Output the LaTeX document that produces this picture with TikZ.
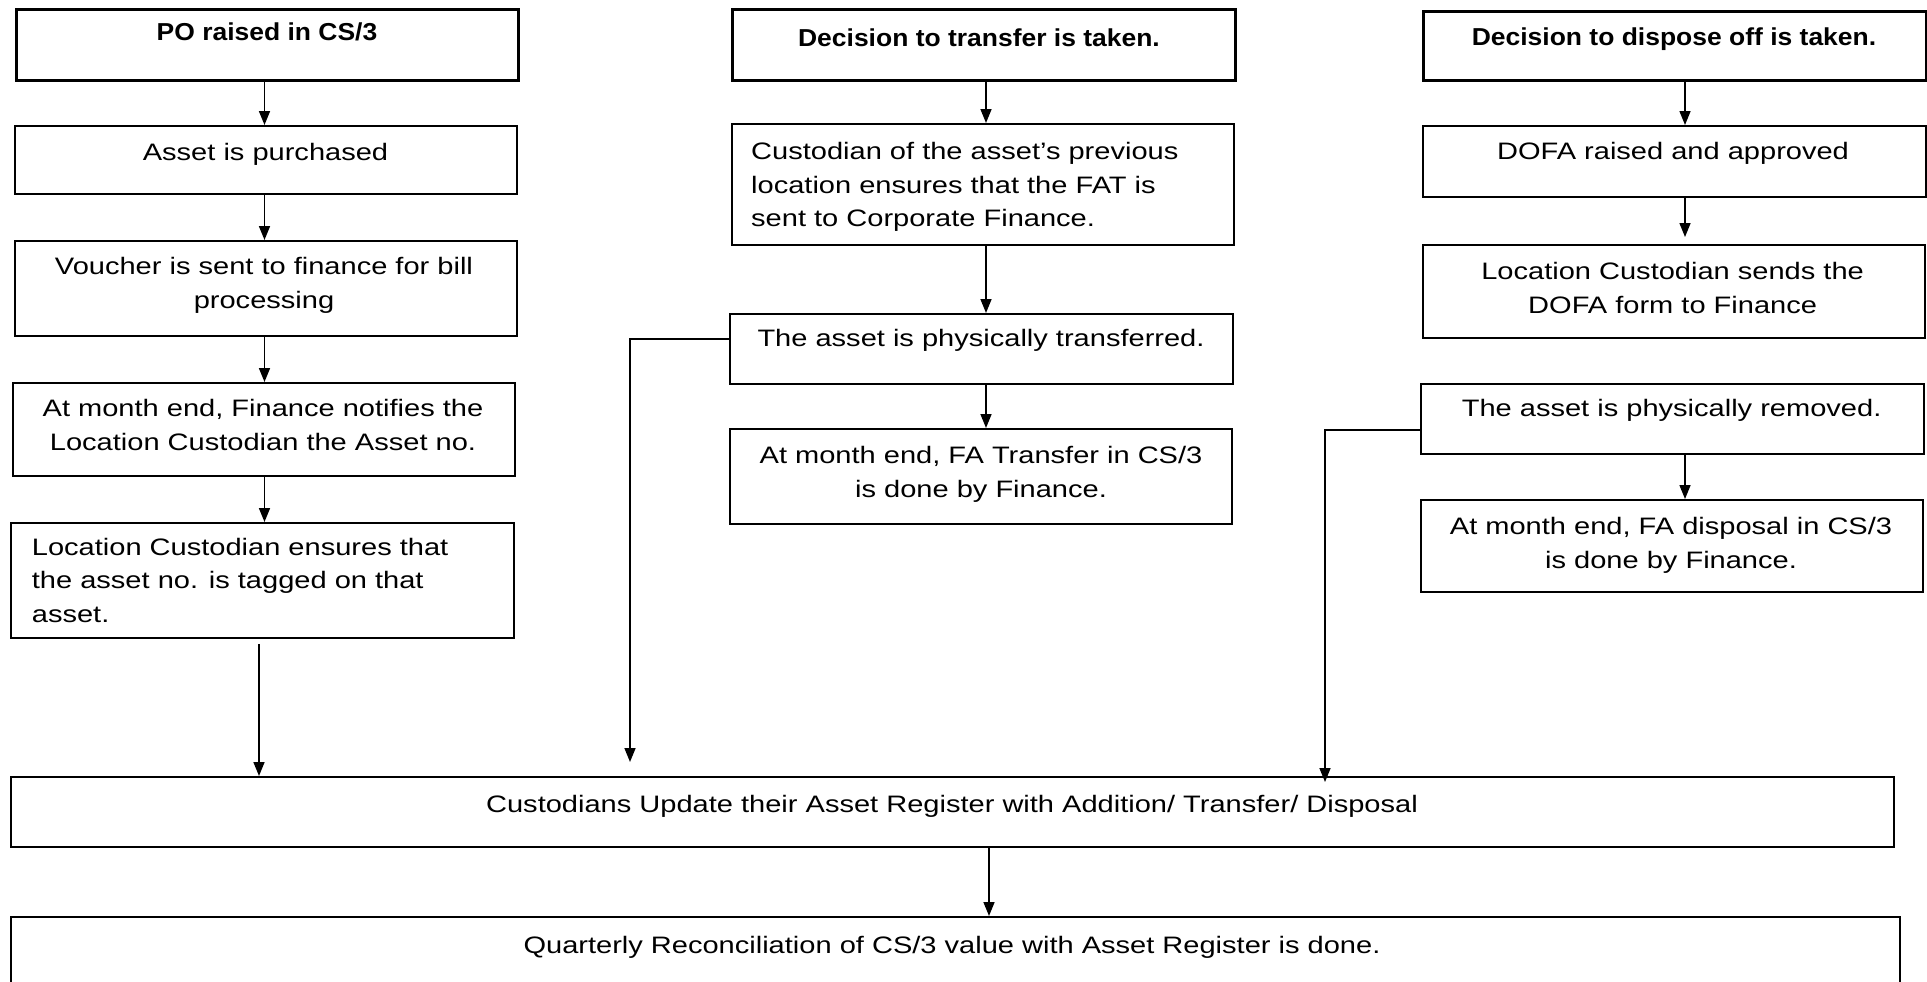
\documentclass[tikz,border=0pt]{standalone}
\usepackage{fontspec}
\setmainfont{Liberation Sans}[FakeStretch=1.22]
\newfontfamily\headfont{Liberation Sans}[FakeStretch=1.08]
\usetikzlibrary{arrows.meta}
\begin{document}
\begin{tikzpicture}[x=1pt,y=-1pt,
  box/.style={draw, line width=1.8pt, inner sep=0pt, anchor=north west},
  headbox/.style={box, line width=3pt},
  body/.style={inner sep=0pt, anchor=north, align=center, font=\fontsize{23.8}{33.5}\selectfont},
  bodyl/.style={body, anchor=north west, align=left},
  head/.style={inner sep=0pt, anchor=north, font=\headfont\bfseries\fontsize{24.5}{30}\selectfont},
  arr/.style={line width=1.6pt, -{Triangle[width=11pt,length=14pt]}}]

\useasboundingbox (0,0) rectangle (1927,982);
\clip (0,0) rectangle (1927,982);

% ---- Addition column ----
\node[headbox, minimum width=502pt, minimum height=71pt] (a1) at (15,8) {};
\node[box, minimum width=502pt, minimum height=68pt] (a2) at (14,125) {};
\node[box, minimum width=502pt, minimum height=95pt] (a3) at (14,240) {};
\node[box, minimum width=502pt, minimum height=93pt] (a4) at (12,382) {};
\node[box, minimum width=503pt, minimum height=115pt] (a5) at (10,522) {};

% ---- Transfer column ----
\node[headbox, minimum width=503pt, minimum height=71pt] (b1) at (731,8) {};
\node[box, minimum width=502pt, minimum height=121pt] (b2) at (731,123) {};
\node[box, minimum width=503pt, minimum height=70pt] (b3) at (729,313) {};
\node[box, minimum width=502pt, minimum height=95pt] (b4) at (729,428) {};

% ---- Disposal column ----
\node[headbox, minimum width=503pt, minimum height=69pt] (c1) at (1422,10) {};
\node[box, minimum width=503pt, minimum height=71pt] (c2) at (1422,125) {};
\node[box, minimum width=502pt, minimum height=93pt] (c3) at (1422,244) {};
\node[box, minimum width=503pt, minimum height=70pt] (c4) at (1420,383) {};
\node[box, minimum width=502pt, minimum height=92pt] (c5) at (1420,499) {};

% ---- Common steps ----
\node[box, minimum width=1883pt, minimum height=70pt] (d1) at (10,776) {};
\node[box, minimum width=1889pt, minimum height=120pt] (d2) at (10,916) {};

% ---- Texts ----
\node[head] (a1t) at (267,23) {PO raised in CS/3};
\node[body] (a2t) at (265.5,142.7) {Asset is purchased};
\node[body] (a3t) at (264,257.4) {Voucher is sent to finance for bill\\processing};
\node[body] (a4t) at (263,399.4) {At month end, Finance notifies the\\Location Custodian the Asset no.};
\node[bodyl] (a5t) at (31.7,538) {Location Custodian ensures that\\the asset no. is tagged on that\\asset.};

\node[head] (b1t) at (979,28.3) {Decision to transfer is taken.};
\node[bodyl] (b2t) at (751,142.4) {Custodian of the asset’s previous\\location ensures that the FAT is\\sent to Corporate Finance.};
\node[body] (b3t) at (981,329.4) {The asset is physically transferred.};
\node[body] (b4t) at (981,446.4) {At month end, FA Transfer in CS/3\\is done by Finance.};

\node[head] (c1t) at (1674,28) {Decision to dispose off is taken.};
\node[body] (c2t) at (1673,142.4) {DOFA raised and approved};
\node[body] (c3t) at (1672.6,262.4) {Location Custodian sends the\\DOFA form to Finance};
\node[body] (c4t) at (1671.6,399.4) {The asset is physically removed.};
\node[body] (c5t) at (1671,517.4) {At month end, FA disposal in CS/3\\is done by Finance.};

\node[body] (d1t) at (952,795) {Custodians Update their Asset Register with Addition/ Transfer/ Disposal};
\node[body] (d2t) at (952,936) {Quarterly Reconciliation of CS/3 value with Asset Register is done.};

% ---- Connector lanes ----
\coordinate (ax) at (264.5,0);
\coordinate (bx) at (986,0);
\coordinate (cx) at (1685,0);
\coordinate (ex) at (259,0);
\coordinate (fx) at (630,0);
\coordinate (gx) at (1325,0);
\coordinate (dx) at (989,0);

% ---- Connectors ----
\draw[arr] (a1.south -| ax) -- (a2.north -| ax);
\draw[arr] (a2.south -| ax) -- (a3.north -| ax);
\draw[arr] (a3.south -| ax) -- (a4.north -| ax);
\draw[arr] (a4.south -| ax) -- (a5.north -| ax);
\draw[arr, shorten <=5pt] (a5.south -| ex) -- (d1.north -| ex);

\draw[arr] (b1.south -| bx) -- (b2.north -| bx);
\draw[arr] (b2.south -| bx) -- (b3.north -| bx);
\draw[arr] (b3.south -| bx) -- (b4.north -| bx);
\draw[arr, shorten >=14pt] ([yshift=10pt]b3.west) -| (d1.north -| fx);

\draw[arr] (c1.south -| cx) -- (c2.north -| cx);
\draw[arr, shorten >=7pt] (c2.south -| cx) -- (c3.north -| cx);
\draw[arr] (c4.south -| cx) -- (c5.north -| cx);
\draw[arr, shorten >=-6pt] ([yshift=-11pt]c4.west) -| (d1.north -| gx);

\draw[arr] (d1.south -| dx) -- (d2.north -| dx);
\end{tikzpicture}
\end{document}
